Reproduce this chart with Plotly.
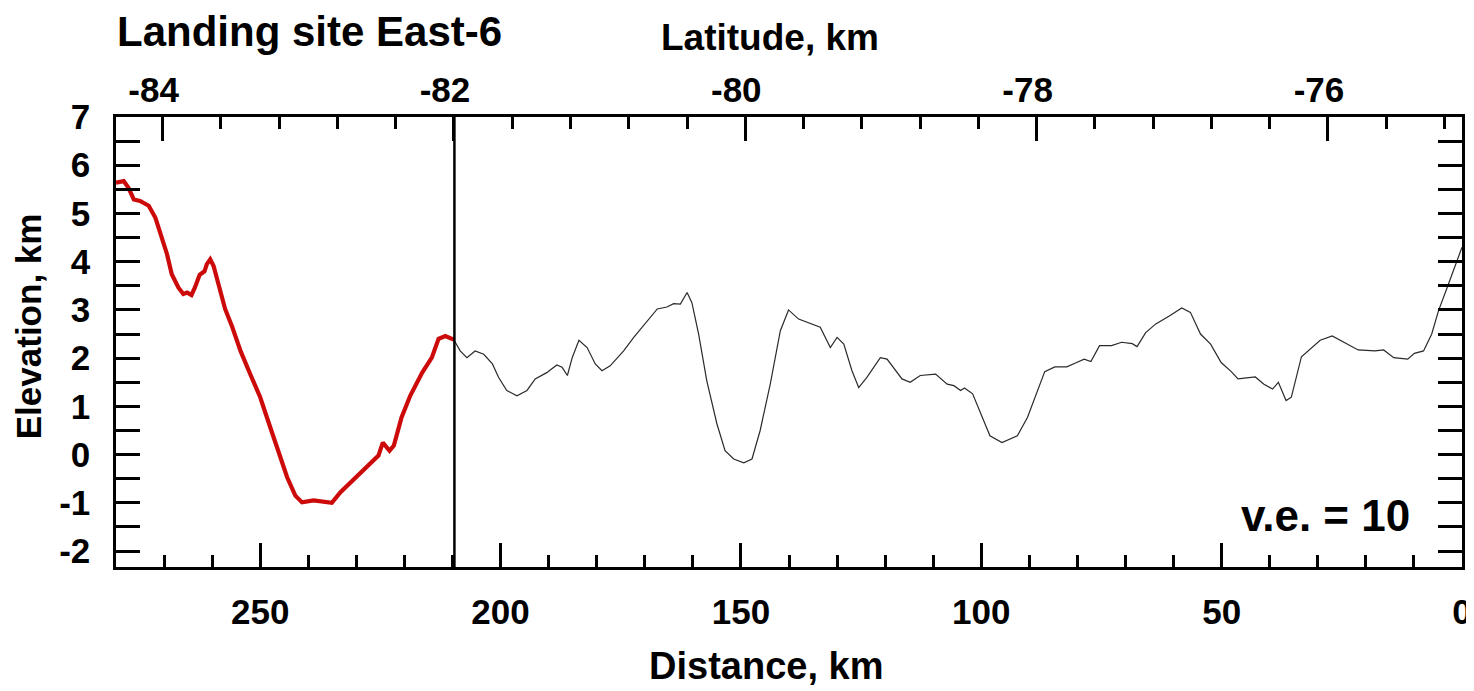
import plotly.graph_objects as go

# ---- data ----
red_dist = [280.0, 278.4, 277.4, 276.3, 275.0, 273.2, 271.8, 270.4, 269.4, 268.4, 267.0, 266.0, 265.2, 264.3,
            263.6, 262.6, 261.6, 261.1, 260.4, 259.7, 258.7, 257.3, 255.8, 254.1, 252.0, 250.0, 248.6, 246.5,
            244.4, 242.7, 241.3, 238.9, 236.8, 235.1, 233.3, 230.9, 228.5, 226.4, 225.4, 224.5, 223.1, 222.2,
            220.6, 218.8, 217.1, 216.3, 214.3, 212.9, 211.5, 209.6]
red_elev = [5.64, 5.67, 5.53, 5.29, 5.26, 5.16, 4.91, 4.50, 4.16, 3.74, 3.46, 3.33, 3.36, 3.31,
            3.46, 3.73, 3.80, 3.95, 4.05, 3.91, 3.53, 3.02, 2.64, 2.15, 1.65, 1.19, 0.77, 0.15,
            -0.47, -0.85, -0.99, -0.95, -0.97, -1.00, -0.78, -0.54, -0.33, -0.12, -0.02, 0.25, 0.08, 0.19,
            0.77, 1.22, 1.53, 1.70, 2.01, 2.40, 2.46, 2.38]

black_dist = [209.6, 208.4, 207.0, 205.3, 203.5, 201.7, 200.4, 198.7, 196.6, 194.5, 192.8, 190.4, 188.3, 187.2,
              186.1, 185.1, 183.7, 182.0, 180.3, 178.9, 177.2, 174.4, 172.3, 170.9, 169.2, 167.4, 165.4, 164.0,
              162.6, 161.2, 160.2, 158.8, 157.1, 155.0, 153.3, 151.5, 149.4, 147.7, 146.0, 143.9, 141.8, 140.1,
              138.0, 136.3, 133.5, 131.4, 130.0, 128.6, 126.9, 125.5, 123.8, 121.0, 119.6, 116.5, 114.8, 112.7,
              109.5, 107.1, 105.7, 104.3, 103.5, 101.8, 100.0, 98.2, 95.7, 92.5, 90.4, 88.6, 86.8, 84.7,
              82.2, 80.4, 78.6, 77.2, 75.4, 72.9, 70.8, 68.6, 67.6, 65.8, 63.7, 60.8, 58.3, 56.5,
              54.4, 52.3, 50.1, 48.0, 46.6, 43.0, 41.2, 39.4, 38.2, 36.6, 35.5, 33.4, 31.6, 29.5,
              27.0, 24.5, 21.6, 18.1, 16.3, 14.2, 11.3, 9.9, 8.0, 6.3, 4.9, 3.1, 0.0]
black_elev = [2.36, 2.15, 2.01, 2.15, 2.08, 1.88, 1.60, 1.33, 1.22, 1.33, 1.57, 1.70, 1.86, 1.81,
              1.64, 2.01, 2.37, 2.22, 1.88, 1.74, 1.84, 2.15, 2.43, 2.60, 2.81, 3.02, 3.06, 3.13,
              3.12, 3.36, 3.15, 2.50, 1.53, 0.64, 0.08, -0.09, -0.17, -0.09, 0.50, 1.46, 2.57, 3.00,
              2.81, 2.74, 2.64, 2.22, 2.43, 2.29, 1.74, 1.39, 1.60, 2.01, 1.98, 1.57, 1.50, 1.64,
              1.67, 1.46, 1.43, 1.33, 1.38, 1.26, 0.84, 0.39, 0.25, 0.39, 0.77, 1.26, 1.72, 1.82,
              1.82, 1.90, 1.98, 1.93, 2.26, 2.26, 2.33, 2.30, 2.24, 2.53, 2.71, 2.88, 3.04, 2.95,
              2.50, 2.29, 1.91, 1.72, 1.57, 1.61, 1.46, 1.36, 1.50, 1.12, 1.19, 2.03, 2.19, 2.37,
              2.46, 2.33, 2.17, 2.15, 2.17, 2.01, 1.98, 2.10, 2.15, 2.50, 2.98, 3.46, 4.30]

boundary_km = 209.6

dist_range = [280, 0]
lat_range = [-84.32, -75.08]
elev_range = [-2.33, 7]

dist_tickvals = [0, 50, 100, 150, 200, 250]
dist_ticktext = ["0", "50", "100", "150", "200", "250"]
lat_tickvals = [-84, -82, -80, -78, -76]
lat_ticktext = ["-84", "-82", "-80", "-78", "-76"]
elev_tickvals = [-2, -1, 0, 1, 2, 3, 4, 5, 6, 7]
elev_ticktext = ["-2", "-1", "0", "1", "2", "3", "4", "5", "6", "7"]

title_text = "Landing site East-6"
x_title = "Distance, km"
x2_title = "Latitude, km"
y_title = "Elevation, km"
ve_text = "v.e. = 10"

FONT = "Liberation Sans"
tickfont = dict(family=FONT, size=35, color="black", weight="bold")
LW = 2.5

fig = go.Figure()
fig.add_trace(go.Scatter(x=black_dist, y=black_elev, mode="lines",
                         line=dict(color="#2a2a2a", width=1.2), showlegend=False, hoverinfo="skip"))
fig.add_trace(go.Scatter(x=red_dist, y=red_elev, mode="lines",
                         line=dict(color="#cc0a0a", width=4.2), showlegend=False, hoverinfo="skip"))
# empty helper trace so the latitude (top) axis is created
fig.add_trace(go.Scatter(x=lat_tickvals, y=[None] * len(lat_tickvals), xaxis="x2", yaxis="y",
                         mode="lines", showlegend=False, hoverinfo="skip"))

fig.add_shape(type="line", xref="x", yref="paper", x0=boundary_km, x1=boundary_km, y0=0, y1=1,
              line=dict(color="black", width=2.5))

# the page body has an 8px margin, so the figure is 8px smaller and margins shifted
fig.update_layout(
    template="none",
    width=1466, height=683,
    margin=dict(l=108, r=12, t=109, b=124),
    paper_bgcolor="white", plot_bgcolor="white",
    xaxis=dict(range=dist_range, tickmode="array", tickvals=dist_tickvals, ticktext=dist_ticktext,
               ticks="inside", ticklen=24, tickwidth=LW, tickcolor="black",
               minor=dict(tickmode="linear", tick0=0, dtick=10, ticks="inside", ticklen=12,
                          tickwidth=LW, tickcolor="black"),
               showline=True, linecolor="black", linewidth=LW, mirror=False, automargin=False,
               showgrid=False, zeroline=False, tickfont=tickfont, ticklabelstandoff=12),
    xaxis2=dict(range=lat_range, overlaying="x", side="top", anchor="y",
                tickmode="array", tickvals=lat_tickvals, ticktext=lat_ticktext,
                ticks="inside", ticklen=24, tickwidth=LW, tickcolor="black",
                minor=dict(tickmode="linear", tick0=-84, dtick=0.4, ticks="inside", ticklen=12,
                           tickwidth=LW, tickcolor="black"),
                showline=True, linecolor="black", linewidth=LW, automargin=False,
                showgrid=False, zeroline=False, tickfont=tickfont, ticklabelstandoff=-2,
                ticklabelshift=-9),
    yaxis=dict(range=elev_range, tickmode="array", tickvals=elev_tickvals, ticktext=elev_ticktext,
               ticks="inside", ticklen=24, tickwidth=LW, tickcolor="black",
               minor=dict(tickmode="linear", tick0=0, dtick=0.5, ticks="inside", ticklen=12,
                          tickwidth=LW, tickcolor="black"),
               showline=True, linecolor="black", linewidth=LW, mirror="allticks", automargin=False,
               showgrid=False, zeroline=False, tickfont=tickfont, ticklabelstandoff=16),
)

def ann(text, x, y, size, xanchor="center", angle=0):
    fig.add_annotation(text=text, x=x, y=y, xref="paper", yref="paper", xanchor=xanchor, yanchor="middle",
                       showarrow=False, textangle=angle,
                       font=dict(family=FONT, size=size, color="black", weight="bold"))

ann(title_text, -0.001, 1.190, 42, xanchor="left")
ann(x2_title, 0.4859, 1.177, 37)
ann(x_title, 0.4826, -0.219, 38)
ann(y_title, -0.0654, 0.535, 35, angle=-90)
ann(ve_text, 0.9629, 0.115, 44, xanchor="right")

fig.write_html("out.html")
